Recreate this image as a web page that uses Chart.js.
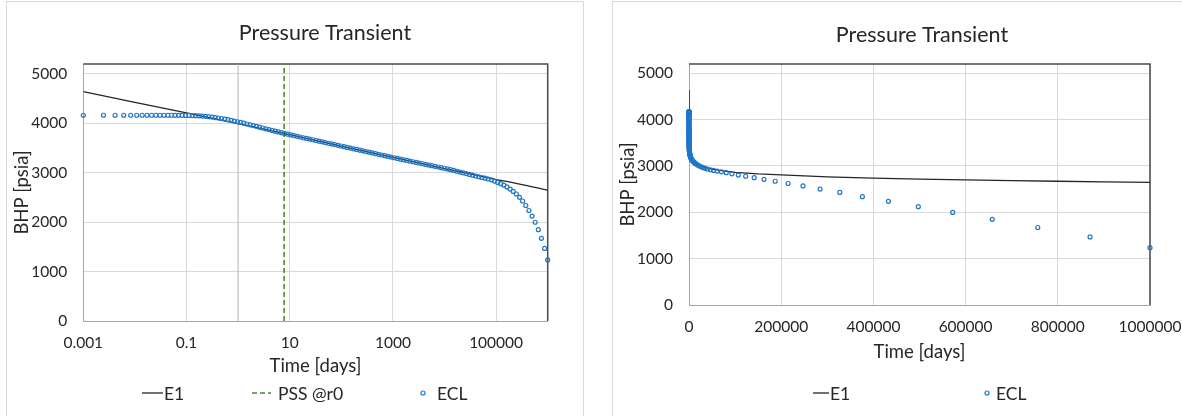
<!DOCTYPE html>
<html>
<head>
<meta charset="utf-8">
<script src="https://cdn.jsdelivr.net/npm/chart.js@4/dist/chart.umd.min.js"></script>
<style>
  html, body { margin: 0; padding: 0; background: #ffffff; }
  body { width: 1182px; height: 416px; position: relative; overflow: hidden; }
  .panel { position: absolute; border: 1px solid #d9d9d9; box-sizing: border-box; }
  canvas { position: absolute; top: 0; }
</style>
</head>
<body>
<div class="panel" style="left:6px; top:1px; width:578px; height:440px;"></div>
<div class="panel" style="left:612px; top:1px; width:600px; height:440px;"></div>
<canvas id="logChart" width="600" height="416" style="left:0px;"></canvas>
<canvas id="linChart" width="582" height="416" style="left:600px;"></canvas>
<script>
// ---- Series: analytical solution (E1) ----
const e1Time = [0.001, 0.01, 0.1, 1, 10, 100, 1000, 3000, 10000, 20000, 30000, 50000, 70000,
  100000, 150000, 200000, 300000, 400000, 500000, 600000, 700000, 800000, 900000, 1000000];
const e1Bhp = [4640, 4425, 4212, 3995, 3770, 3540, 3310, 3203, 3085, 3020, 2982, 2933, 2900,
  2862, 2828, 2806, 2766, 2738, 2716, 2698, 2684, 2670, 2657, 2645];

// ---- Series: simulator output (ECL), one value per report step ----
const eclTime = [0.001, 0.00246, 0.00414, 0.00607, 0.00829, 0.01084, 0.01378, 0.01715, 0.02103, 0.0255,
  0.03063, 0.03654, 0.04333, 0.05114, 0.06012, 0.07044, 0.08232, 0.09597, 0.1117, 0.1297,
  0.1505, 0.1744, 0.2019, 0.2335, 0.2698, 0.3116, 0.3596, 0.4149, 0.4784, 0.5515,
  0.6355, 0.7321, 0.8433, 0.9711, 1.118, 1.287, 1.481, 1.705, 1.962, 2.258,
  2.598, 2.988, 3.438, 3.955, 4.55, 5.233, 6.02, 6.924, 7.964, 9.16,
  10.535, 12.12, 13.94, 16.03, 18.43, 21.2, 24.38, 28.04, 32.25, 37.08,
  42.65, 49.05, 56.4, 64.87, 74.6, 85.79, 98.65, 113.46, 130.48, 150.06,
  172.56, 198.44, 228.21, 262.44, 301.81, 347.08, 399.13, 459.01, 527.86, 607.04,
  698.1, 802.81, 923.23, 1061.7, 1221, 1404.1, 1614.7, 1857, 2135.5, 2455.8,
  2824.2, 3247.8, 3735, 4295.2, 4939.5, 5680.5, 6532.5, 7512.4, 8639.3, 9935.2,
  11425, 13139, 15110, 17377, 19983, 22981, 26428, 30392, 34951, 40193,
  46222, 53156, 61129, 70298, 80843, 92970, 106915, 122952, 141395, 162604,
  186995, 215044, 247301, 284396, 327056, 376114, 432530, 497410, 572021, 657825,
  756498, 869973, 1000000];
const eclBhp = [4163, 4163, 4163, 4163, 4163, 4163, 4163, 4163, 4163, 4163,
  4163, 4163, 4163, 4163, 4162, 4162, 4161, 4160, 4159, 4157,
  4155, 4151, 4147, 4141, 4134, 4126, 4117, 4107, 4097, 4085,
  4073, 4060, 4046, 4032, 4017, 4002, 3986, 3970, 3954, 3938,
  3921, 3905, 3889, 3873, 3857, 3841, 3826, 3810, 3795, 3780,
  3765, 3751, 3736, 3723, 3708, 3695, 3680, 3667, 3652, 3639,
  3625, 3610, 3597, 3582, 3569, 3554, 3541, 3527, 3512, 3499,
  3484, 3471, 3456, 3443, 3428, 3415, 3400, 3387, 3372, 3359,
  3345, 3330, 3317, 3303, 3289, 3275, 3262, 3248, 3235, 3222,
  3208, 3195, 3182, 3168, 3155, 3142, 3129, 3116, 3103, 3091,
  3076, 3061, 3046, 3030, 3014, 2998, 2982, 2966, 2950, 2934,
  2918, 2904, 2890, 2873, 2856, 2831, 2803, 2778, 2748, 2712,
  2670, 2622, 2570, 2502, 2428, 2337, 2236, 2122, 1998, 1848,
  1672, 1468, 1236];

// ---- Vertical markers on the log plot ----
const pssTime = [7.8, 7.8];      // pseudo-steady state onset at r0
const pssBhp = [0, 5200];
const unitDayTime = [1, 1];      // one-day reference line
const unitDayBhp = [0, 5200];

// ---- Axis ticks ----
const logTimeTicks = [0.001, 0.1, 10, 1000, 100000];
const linTimeTicks = [0, 200000, 400000, 600000, 800000, 1000000];
const bhpTicks = [0, 1000, 2000, 3000, 4000, 5000];

const FONT = 'Lato, "Open Sans", sans-serif';
const TXT = '#262626';
const GRID = '#d9d9d9';
const AXIS = '#a6a6a6';
const BLUE = '#1f77c9';
const E1_COLOR = '#262626';
const PSS_COLOR = '#548235';
const TICK_SIZE = 15.5;
const AXIS_TITLE_SIZE = 18.5;

Chart.defaults.font.family = FONT;
Chart.defaults.color = TXT;

const pts = (xs, ys) => xs.map((x, i) => ({ x: x, y: ys[i] }));

// Dark frame on the top and right edges of the plot area
const frame = {
  id: 'frame',
  beforeDatasetsDraw(chart) {
    const { ctx, chartArea: a } = chart;
    ctx.save();
    ctx.strokeStyle = '#4a4a4a';
    ctx.lineWidth = 1.5;
    ctx.beginPath();
    ctx.moveTo(a.left, a.top);
    ctx.lineTo(a.right, a.top);
    ctx.lineTo(a.right, a.bottom);
    ctx.stroke();
    ctx.restore();
  }
};

// Chart title and a spread-out legend row
const decor = {
  id: 'decor',
  afterDraw(chart, args, o) {
    const ctx = chart.ctx;
    ctx.save();
    ctx.fillStyle = TXT;
    ctx.textBaseline = 'middle';
    ctx.textAlign = 'center';
    ctx.font = '21.5px ' + FONT;
    ctx.fillText(o.title, o.titleX, o.titleY);

    ctx.font = '17.5px ' + FONT;
    ctx.textAlign = 'left';
    o.legend.forEach(item => {
      const ds = chart.data.datasets[item.dataset];
      const y = o.legendY;
      ctx.save();
      ctx.strokeStyle = ds.borderColor;
      ctx.lineWidth = ds.borderWidth;
      if (item.kind === 'line') {
        ctx.setLineDash(ds.borderDash || []);
        ctx.beginPath();
        ctx.moveTo(item.x0, y);
        ctx.lineTo(item.x1, y);
        ctx.stroke();
      } else {
        ctx.beginPath();
        ctx.arc(item.x0, y, ds.pointRadius, 0, Math.PI * 2);
        ctx.stroke();
      }
      ctx.restore();
      ctx.fillStyle = TXT;
      ctx.fillText(ds.label, item.textX, y + 1);
    });
    ctx.restore();
  }
};

function bhpAxis(axisWidth, titlePad) {
  return {
    type: 'linear',
    min: 0,
    max: 5200,
    afterBuildTicks: s => { s.ticks = bhpTicks.map(v => ({ value: v })); },
    afterFit: s => { s.width = axisWidth; s.paddingTop = 0; s.paddingBottom = 0; },
    ticks: { padding: 16, font: { size: TICK_SIZE }, color: TXT, callback: v => String(v) },
    grid: { color: GRID, drawTicks: false },
    border: { color: AXIS, width: 1 },
    title: { display: true, text: 'BHP [psia]', font: { size: AXIS_TITLE_SIZE }, color: TXT,
      padding: { top: titlePad, bottom: 0 } }
  };
}

function timeAxisCommon(height, titleBottomPad) {
  return {
    afterFit: s => { s.height = height; s.paddingLeft = 0; s.paddingRight = 0; },
    ticks: { padding: 13, maxRotation: 0, autoSkip: false, font: { size: TICK_SIZE }, color: TXT,
      callback: v => String(v) },
    grid: { color: GRID, drawTicks: false },
    border: { color: AXIS, width: 1 },
    title: { display: true, text: 'Time [days]', font: { size: AXIS_TITLE_SIZE }, color: TXT,
      padding: { top: 0, bottom: titleBottomPad } }
  };
}

const eclDataset = {
  label: 'ECL',
  data: pts(eclTime, eclBhp),
  showLine: false,
  pointRadius: 2,
  pointHoverRadius: 2,
  pointBorderWidth: 1.2,
  borderWidth: 1.2,
  borderColor: BLUE,
  pointBorderColor: BLUE,
  pointBackgroundColor: 'rgba(0,0,0,0)',
  backgroundColor: 'rgba(0,0,0,0)',
  clip: false,
  order: 0
};
const e1Dataset = {
  label: 'E1',
  data: pts(e1Time, e1Bhp),
  showLine: true,
  pointRadius: 0,
  borderColor: E1_COLOR,
  borderWidth: 1.3,
  tension: 0,
  order: 1
};

// ---- Semi-log plot ----
new Chart(document.getElementById('logChart'), {
  type: 'scatter',
  data: {
    datasets: [
      e1Dataset,
      {
        label: 'PSS @r0',
        data: pts(pssTime, pssBhp),
        showLine: true,
        pointRadius: 0,
        borderColor: PSS_COLOR,
        borderWidth: 1.6,
        borderDash: [5, 3],
        order: 2
      },
      {
        label: '1 day',
        data: pts(unitDayTime, unitDayBhp),
        showLine: true,
        pointRadius: 0,
        borderColor: '#b4b4b4',
        borderWidth: 1,
        order: 3
      },
      eclDataset
    ]
  },
  options: {
    responsive: false,
    animation: false,
    devicePixelRatio: 1,
    layout: { padding: { top: 64, right: 52.3, left: 0, bottom: 0 } },
    plugins: {
      legend: { display: false },
      tooltip: { enabled: false },
      decor: {
        title: 'Pressure Transient', titleX: 325, titleY: 33,
        legendY: 393,
        legend: [
          { dataset: 0, kind: 'line', x0: 142, x1: 163, textX: 164 },
          { dataset: 1, kind: 'line', x0: 252, x1: 271, textX: 278 },
          { dataset: 3, kind: 'point', x0: 423, textX: 437 }
        ]
      }
    },
    scales: {
      x: Object.assign({
        type: 'logarithmic',
        min: 0.001,
        max: 1000000,
        afterBuildTicks: s => { s.ticks = logTimeTicks.map(v => ({ value: v })); }
      }, timeAxisCommon(95, 38.9)),
      y: bhpAxis(83.3, 10.7)
    }
  },
  plugins: [frame, decor]
});

// ---- Cartesian plot ----
new Chart(document.getElementById('linChart'), {
  type: 'scatter',
  data: {
    datasets: [
      Object.assign({}, e1Dataset, { data: pts(e1Time, e1Bhp) }),
      Object.assign({}, eclDataset, { data: pts(eclTime, eclBhp) })
    ]
  },
  options: {
    responsive: false,
    animation: false,
    devicePixelRatio: 1,
    layout: { padding: { top: 64, right: 32, left: 0, bottom: 0 } },
    plugins: {
      legend: { display: false },
      tooltip: { enabled: false },
      decor: {
        title: 'Pressure Transient', titleX: 322, titleY: 35,
        legendY: 393,
        legend: [
          { dataset: 0, kind: 'line', x0: 213, x1: 229, textX: 230 },
          { dataset: 1, kind: 'point', x0: 387, textX: 396 }
        ]
      }
    },
    scales: {
      x: Object.assign({
        type: 'linear',
        min: 0,
        max: 1000000,
        afterBuildTicks: s => { s.ticks = linTimeTicks.map(v => ({ value: v })); }
      }, timeAxisCommon(111, 52.9)),
      y: bhpAxis(89, 16.7)
    }
  },
  plugins: [frame, decor]
});
</script>
</body>
</html>
